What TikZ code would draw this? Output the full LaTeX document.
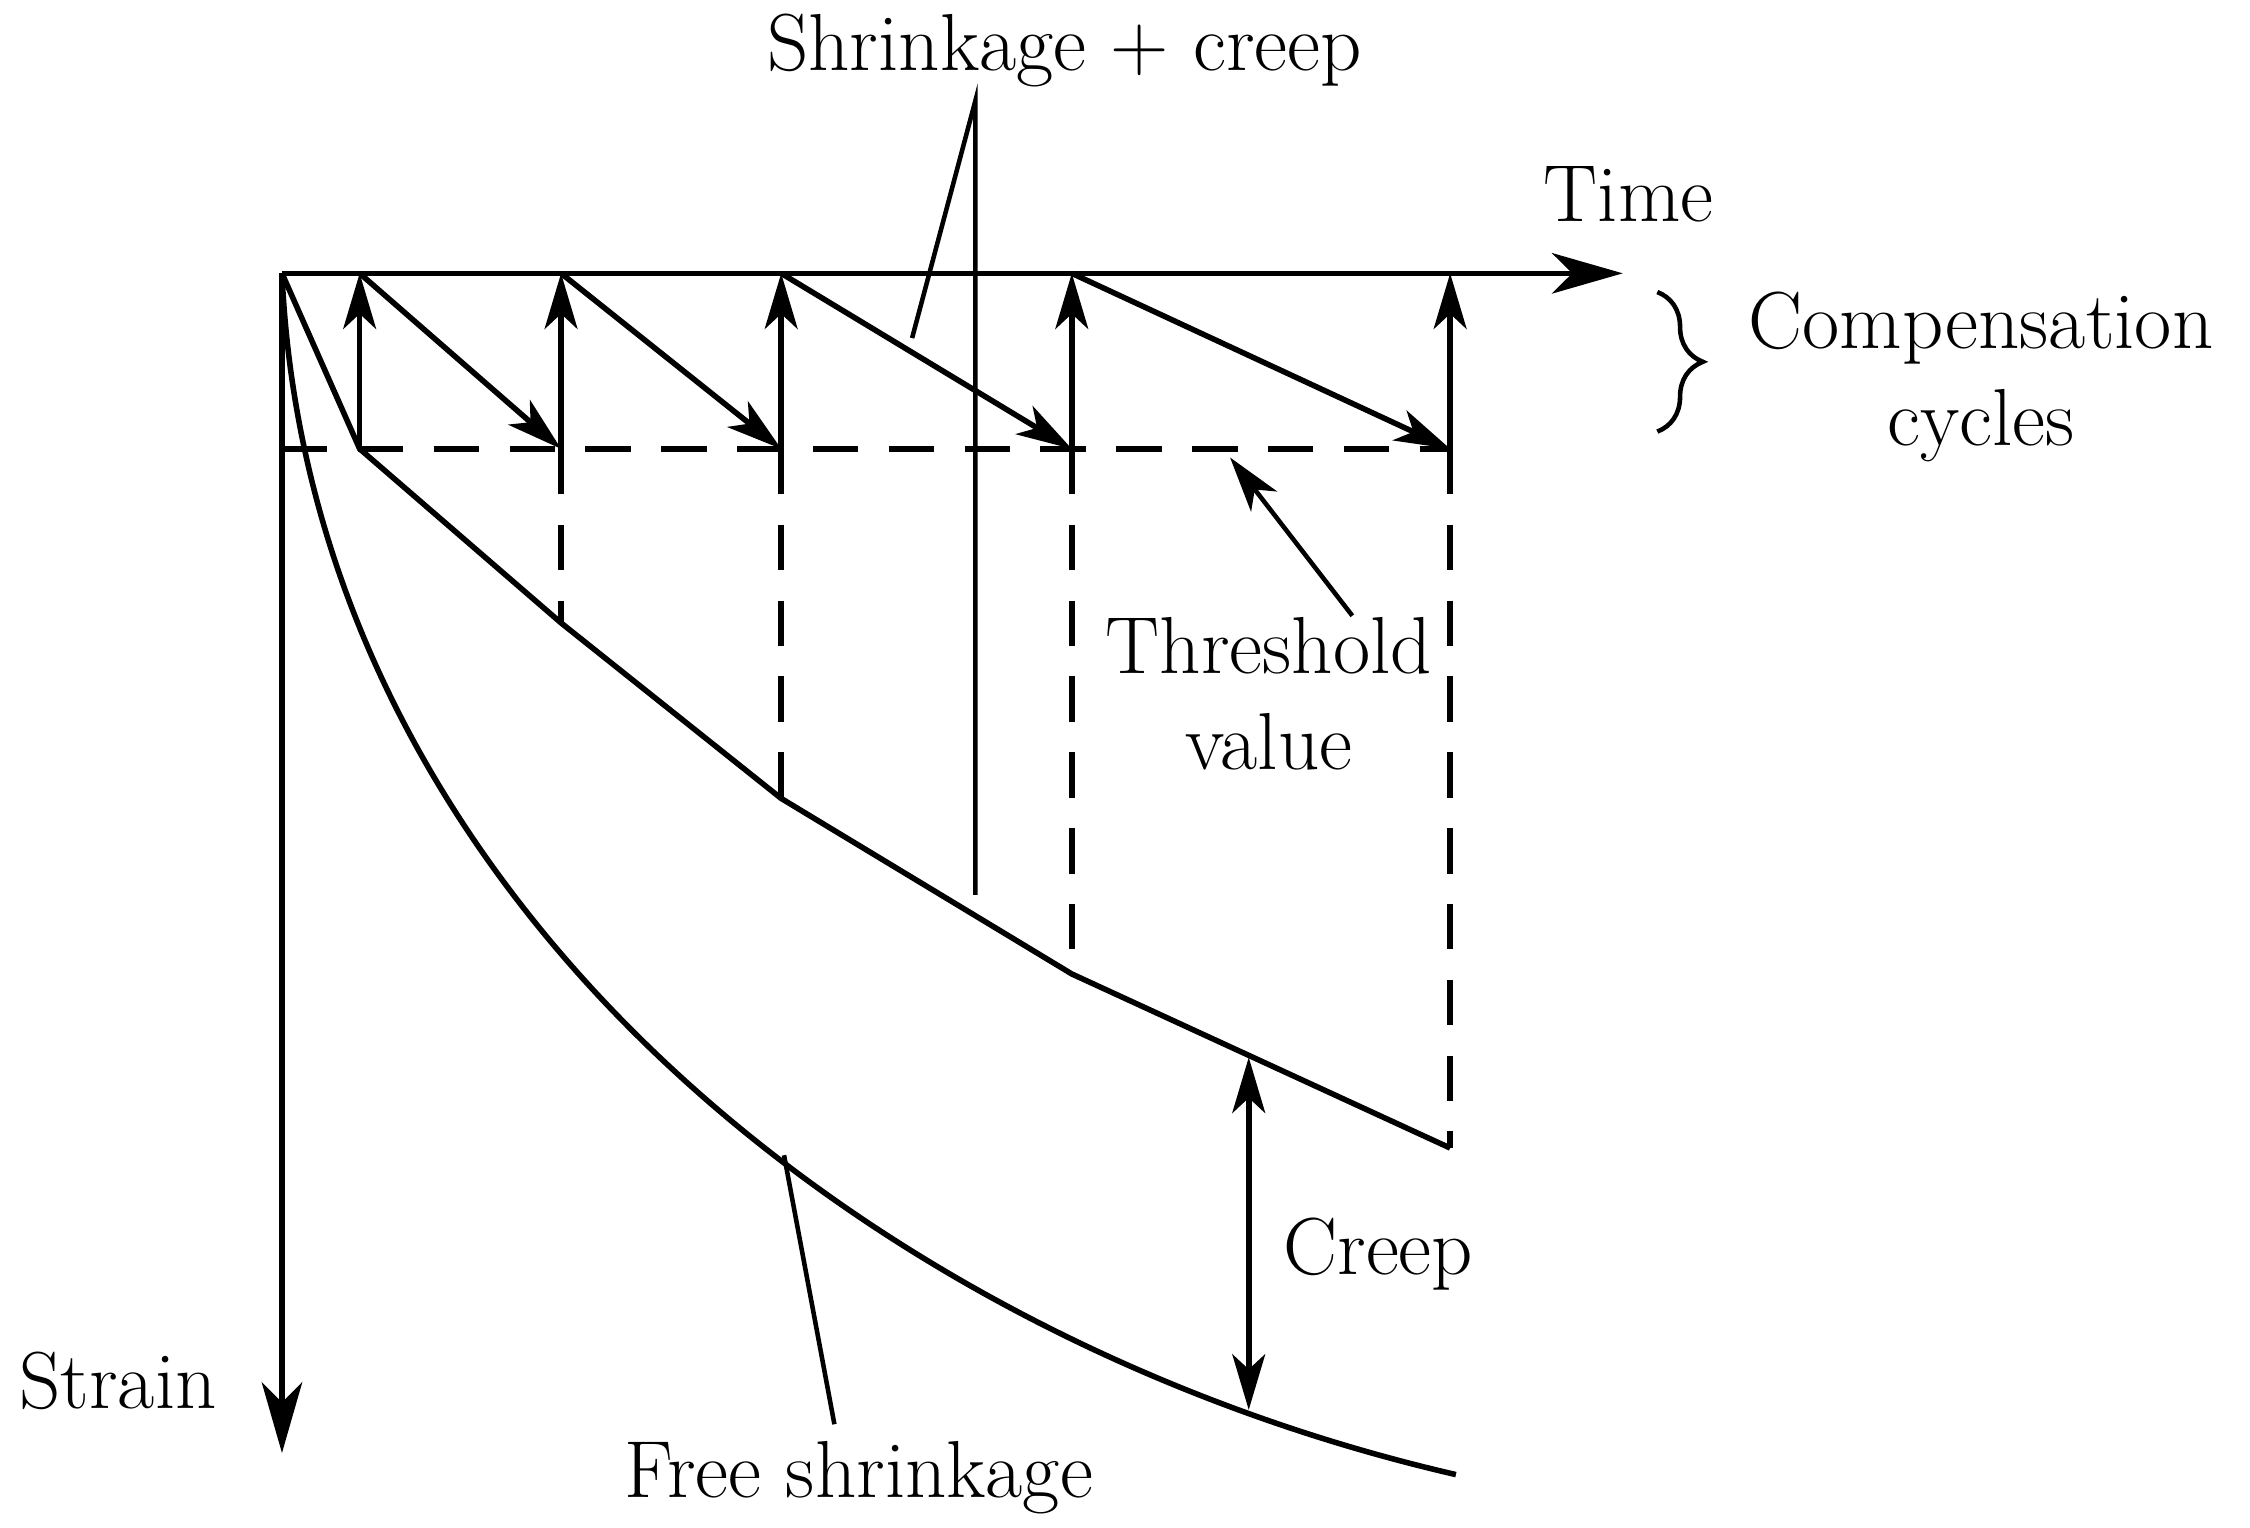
\documentclass[tikz,border=0pt]{standalone}
\usetikzlibrary{arrows.meta,decorations.pathreplacing}
\begin{document}
\begin{tikzpicture}[x=0.1mm,y=-0.1mm,line width=1.1pt,
  arr/.style={-{Stealth[length=14pt,width=8pt,inset=4pt]}},
  sarr/.style={-{Stealth[length=11pt,width=6.5pt,inset=3pt]}},
  dsh/.style={dashed,dash pattern=on 9pt off 6pt},
  lbl/.style={font=\fontsize{16}{19}\selectfont,align=center}]
\useasboundingbox (0,0) rectangle (1564,1062);
\coordinate (O) at (196,190);
\coordinate (T) at (1128,190);
\coordinate (S) at (196,1010);
\draw[arr] (O) -- (T);
\draw[arr] (O) -- (S);
\coordinate (P1) at (250,312);
\coordinate (P2) at (390,433);
\coordinate (P3) at (543,555);
\coordinate (P4) at (745,677);
\coordinate (P5) at (1008,798);
\coordinate (H0) at (196,312);
\coordinate (H1) at (250,312);
\coordinate (H2) at (390,312);
\coordinate (H3) at (543,312);
\coordinate (H4) at (745,312);
\coordinate (H5) at (1008,312);
\coordinate (A1) at (250,190);
\coordinate (A2) at (390,190);
\coordinate (A3) at (543,190);
\coordinate (A4) at (745,190);
\coordinate (A5) at (1008,190);
\draw (O) -- (P1) -- (P2) -- (P3) -- (P4) -- (P5);
\draw[dsh] (H0) -- (H5);
\draw[dsh] (H2) -- (P2);
\draw[dsh] (H3) -- (P3);
\draw[dsh] (H4) -- (P4);
\draw[dsh] (H5) -- (P5);
\foreach \i in {1,...,5} \draw[sarr] (H\i) -- (A\i);
\draw[sarr] (A1) -- (H2);
\draw[sarr] (A2) -- (H3);
\draw[sarr] (A3) -- (H4);
\draw[sarr] (A4) -- (H5);
\coordinate (F) at (1012,1025);
\draw (O) .. controls (215,620) and (600,930) .. (F);
\coordinate (C1) at (868,735);
\coordinate (C2) at (868,980);
\draw[sarr,{Stealth[length=11pt,width=6.5pt,inset=3pt]}-{Stealth[length=11pt,width=6.5pt,inset=3pt]}] (C1) -- (C2);
\node[lbl] (creep) at (958,872) {Creep};
\node[lbl] (free) at (597,1027) {Free shrinkage};
\coordinate (fs1) at (545,803);
\coordinate (fs2) at (580,990);
\draw[line width=0.9pt] (fs1) -- (fs2);
\node[lbl] (sc) at (740,35) {Shrinkage + creep};
\coordinate (sc0) at (678,70);
\coordinate (sc1) at (678,622);
\coordinate (sc2) at (634,235);
\draw[line width=0.9pt] (sc1) -- (sc0) -- (sc2);
\node[lbl] (thr) at (882,482) {Threshold\\value};
\coordinate (t0) at (940,428);
\coordinate (t1) at (855,318);
\draw[sarr,line width=0.9pt] (t0) -- (t1);
\node[lbl] (time) at (1132,135) {Time};
\node[lbl] (strain) at (82,960) {Strain};
\draw[line width=0.9pt,decorate,decoration={brace,amplitude=9pt}] (1152,203) -- (1152,300);
\node[lbl] (cc) at (1377,262) {Compensation\\cycles};
\end{tikzpicture}
\end{document}
